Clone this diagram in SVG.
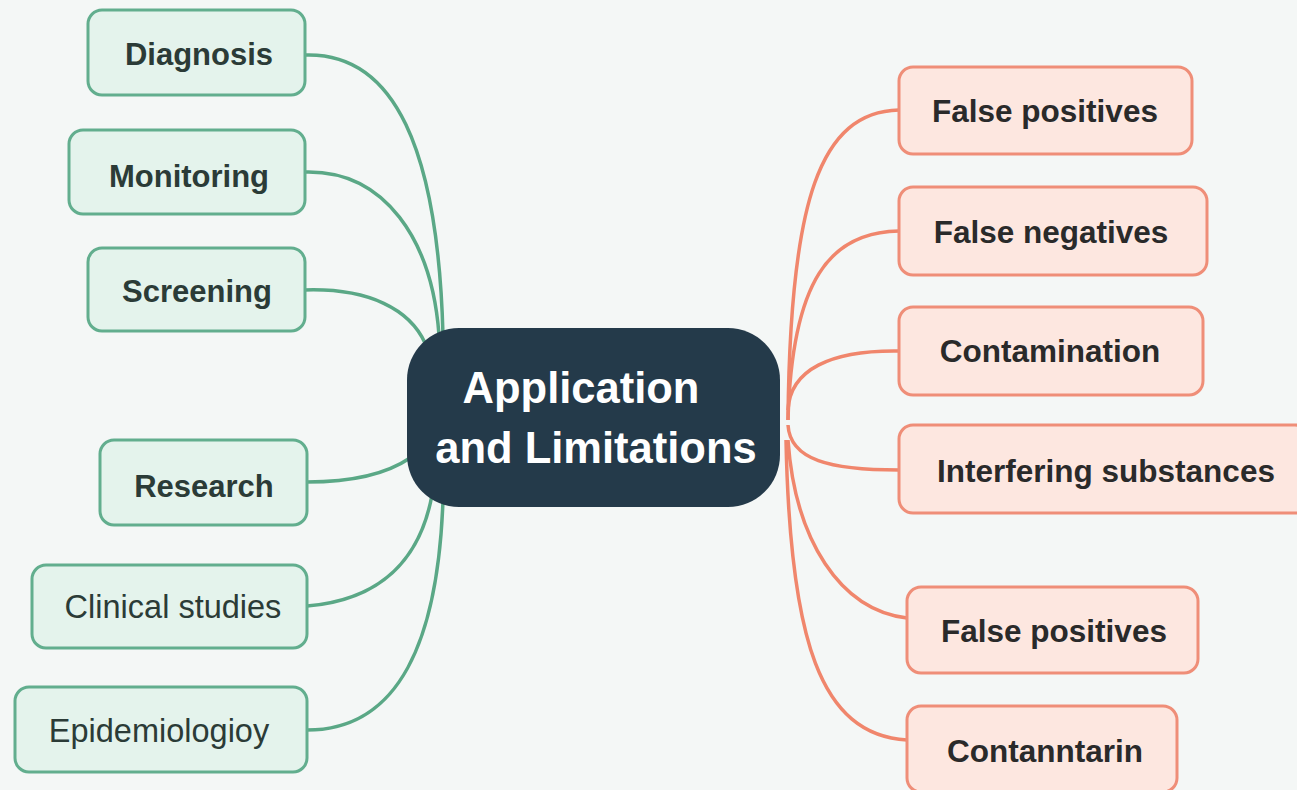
<svg xmlns="http://www.w3.org/2000/svg" width="1297" height="790" viewBox="0 0 1297 790">
<style>
.bg{fill:#f4f7f6}
.gbox{fill:#e4f3ec;stroke:#62ae8e;stroke-width:3}
.rbox{fill:#fde7e0;stroke:#ef8e78;stroke-width:3}
.gl{fill:none;stroke:#5aa886;stroke-width:3.5}
.rl{fill:none;stroke:#f0866c;stroke-width:3.5}
.gt{font-family:"Liberation Sans",Arial,sans-serif;font-size:31px;font-weight:bold;fill:#2b3b37;text-anchor:middle}
.gtr{font-family:"Liberation Sans",Arial,sans-serif;font-size:32.5px;fill:#2b3b37;text-anchor:middle}
.rt{font-family:"Liberation Sans",Arial,sans-serif;font-size:31.5px;font-weight:bold;fill:#2a2a2a;text-anchor:middle}
.ct{font-family:"Liberation Sans",Arial,sans-serif;font-size:43.5px;font-weight:bold;fill:#ffffff;text-anchor:middle}
</style>
<rect class="bg" x="0" y="0" width="1297" height="790"/>
<g id="connectors">
<path class="gl" d="M305,55 C395,52 438,150 443,335"/>
<path class="gl" d="M305,172 C385,170 432,240 439,335"/>
<path class="gl" d="M305,290 C370,288 410,310 425,343"/>
<path class="gl" d="M307,482 C350,482 385,475 410,458"/>
<path class="gl" d="M307,606 C380,600 420,560 432,495"/>
<path class="gl" d="M307,730 C400,730 438,640 443,500"/>
<path class="rl" d="M899,110 C820,112 790,200 788,420"/>
<path class="rl" d="M899,231 C830,232 792,280 788,420"/>
<path class="rl" d="M899,351 C830,350 790,370 788,410"/>
<path class="rl" d="M899,470 C830,470 790,460 788,425"/>
<path class="rl" d="M907,618 C840,610 795,540 788,440"/>
<path class="rl" d="M907,740 C820,735 790,640 786,440"/>
</g>
<g id="center">
<rect x="407" y="328" width="373" height="179" rx="52" fill="#243a4a"/>
<text class="ct" x="581" y="403">Application</text>
<text class="ct" x="596" y="463">and Limitations</text>
</g>
<g id="n-diagnosis"><rect class="gbox" x="88" y="10" width="217" height="85" rx="14"/><text class="gt" x="199" y="65">Diagnosis</text></g>
<g id="n-monitoring"><rect class="gbox" x="69" y="130" width="236" height="84" rx="14"/><text class="gt" x="189" y="187">Monitoring</text></g>
<g id="n-screening"><rect class="gbox" x="88" y="248" width="217" height="83" rx="14"/><text class="gt" x="197" y="302">Screening</text></g>
<g id="n-research"><rect class="gbox" x="100" y="440" width="207" height="85" rx="14"/><text class="gt" x="204" y="497">Research</text></g>
<g id="n-clinical"><rect class="gbox" x="32" y="565" width="275" height="83" rx="14"/><text class="gtr" x="173" y="618">Clinical studies</text></g>
<g id="n-epidemiology"><rect class="gbox" x="15" y="687" width="292" height="85" rx="14"/><text class="gtr" x="159" y="742">Epidemiologioy</text></g>
<g id="n-fp1"><rect class="rbox" x="899" y="67" width="293" height="87" rx="14"/><text class="rt" x="1045" y="122">False positives</text></g>
<g id="n-fn"><rect class="rbox" x="899" y="187" width="308" height="88" rx="14"/><text class="rt" x="1051" y="243">False negatives</text></g>
<g id="n-contam"><rect class="rbox" x="899" y="307" width="304" height="88" rx="14"/><text class="rt" x="1050" y="362">Contamination</text></g>
<g id="n-interf"><rect class="rbox" x="899" y="425" width="410" height="88" rx="14"/><text class="rt" x="1106" y="482">Interfering substances</text></g>
<g id="n-fp2"><rect class="rbox" x="907" y="587" width="291" height="86" rx="14"/><text class="rt" x="1054" y="642">False positives</text></g>
<g id="n-contann"><rect class="rbox" x="907" y="706" width="270" height="86" rx="14"/><text class="rt" x="1045" y="762">Contanntarin</text></g>
</svg>
